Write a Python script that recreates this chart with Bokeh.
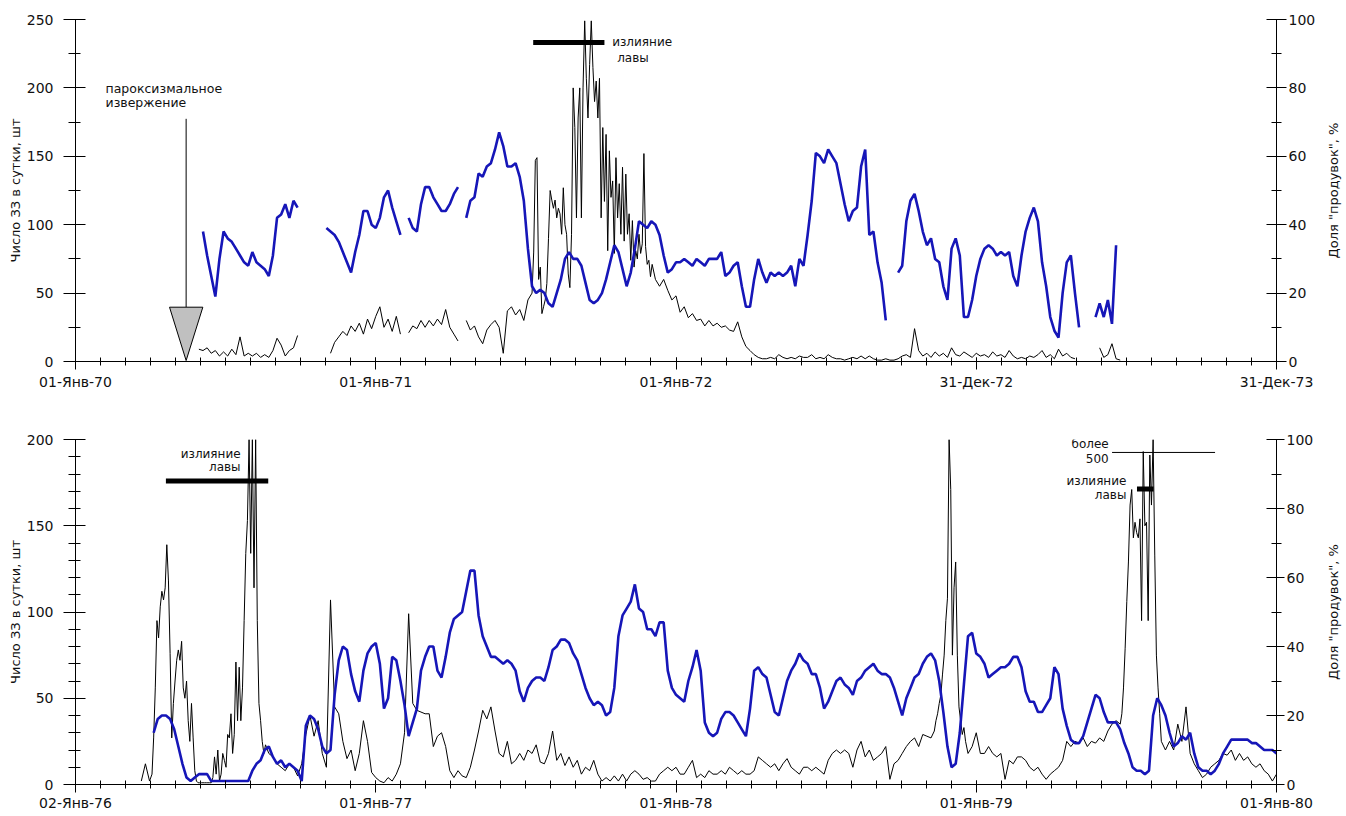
import math
import numpy as np
from bokeh.plotting import figure
from bokeh.models import Range1d, LinearAxis, FixedTicker, CustomJSTickFormatter, Label
from bokeh.layouts import column, row
from bokeh.embed import file_html
from bokeh.resources import INLINE

FONT = "DejaVu Sans"

# Each series is stored as pieces: (first day, step in days).
# None marks a gap in the record.

# ---------------- data: top panel (days from 01-Jan-1970) ----------------
top_tick_labels = ["01-Янв-70", "01-Янв-71", "01-Янв-72", "31-Дек-72", "31-Дек-73"]

top_count_a = [9, 8, 10, 6, 8, 4, 7, 4, 9, 5,
               18, 4, 6, 4, 6, 3, 5, 3, 8, 17,
               12, 4, 8, 10, 19, None, None, None, None, None,
               None, None, 6, 14, 18, 22, 19, 26, 22, 28,
               20, 31, 24, 33, 40, 25, 31, 22, 33, 20,
               None, 21, 26, 24, 30, 25, 30, 26, 31, 27,
               38, 25, 20, 15, None, 30, 23, 26, 18, 13,
               23, 27, 30, 25, 6, 37, 40, 34, 38, 30,
               45]
top_count_b = [50, 80, 147, 149, 60, 69, 35, 40, 45, 57,
               90, 125, 118, 112, 118, 105, 112, 108, 93, 127,
               100, 93, 64, 54, 93, 200, 171, 105, 178, 200,
               105, 200, 249, 207, 178, 217, 249, 215, 190, 205,
               178, 207, 105, 171, 117, 166, 81, 154, 120, 132,
               79, 149, 105, 130, 93, 142, 88, 137, 93, 108,
               74, 103, 69, 81, 75, 93, 79, 86, 152, 84,
               71, 74, 62, 71]
top_count_c = [60, 55, 60, 52, 45, 48, 36, 40, 32,
               35, 30, 31, 26, 30, 26, 28, 25, 26, 23,
               22, 29, 18, 11, 8, 5, 3, 2, 2, 3,
               2, 5, 3, 2, 3, 2, 4, 3, 3, 5,
               2, 3, 2, 5, 3, 2, 2, 1, 2, 3,
               2, 4, 2, 4, 2, 1, 1, 2, 1, 1,
               2, 4, 5, 3, 24, 8, 4, 6, 3, 7,
               4, 6, 3, 10, 5, 4, 7, 5, 3, 6,
               4, 5, 3, 7, 4, 5, 3, 8, 4, 2,
               3, 2, 4, 3, 5, 8, 3, 5, 2, 9,
               4, 6, 3, 2, None, None, None, None, None, 10,
               3, 5, 13, 2, 1]
top_count_pieces = [(150, 5, top_count_a), (555, 2, top_count_b), (705, 5, top_count_c)]

top_share = [38, 31, 25, 19, 30, 38, 36, 35, 33, 31,
             29, 28, 32, 29, 28, 27, 25, 31, 42, 43,
             46, 42, 47, 45, None, None, None, None, None, None,
             39, 38, 37, 35, 32, 29, 26, 32, 37, 44,
             44, 40, 39, 42, 48, 50, 45, 41, 37, None,
             42, 39, 38, 46, 51, 51, 48, 46, 44, 44,
             46, 49, 51, None, 42, 47, 48, 55, 54, 57,
             58, 62, 67, 63, 57, 57, 58, 54, 47, 33,
             22, 20, 21, 20, 17, 16, 20, 24, 30, 32,
             30, 30, 28, 23, 18, 17, 18, 20, 24, 29,
             34, 32, 27, 22, 26, 33, 41, 40, 39, 41,
             40, 37, 31, 26, 27, 29, 29, 30, 29, 28,
             30, 29, 28, 30, 30, 30, 32, 25, 26, 28,
             29, 22, 16, 16, 24, 30, 26, 23, 26, 25,
             26, 25, 26, 28, 22, 30, 28, 37, 47, 61,
             60, 58, 62, 60, 58, 52, 46, 41, 44, 45,
             57, 62, 37, 38, 29, 23, 12, None, None, 26,
             28, 41, 47, 49, 44, 38, 34, 36, 30, 29,
             22, 18, 33, 36, 31, 13, 13, 18, 25, 30,
             33, 34, 33, 31, 32, 31, 32, 25, 22, 31,
             38, 42, 45, 41, 29, 22, 13, 9, 7, 20,
             29, 31, 20, 10, None, None, None, 13, 17, 13,
             18, 11, 34]
top_share_pieces = [(155, 5, top_share)]

# ---------------- data: bottom panel (days from 02-Jan-1976) ----------------
bot_tick_labels = ["02-Янв-76", "01-Янв-77", "01-Янв-78", "01-Янв-79", "01-Янв-80"]

bot_count_a = [2, 12, 2]
bot_count_b = [6, 27, 56, 95, 85, 103, 112, 107, 114, 139,
               118, 76, 27, 47, 60, 72, 78, 72, 83, 56,
               50, 60, 37, 25, 47, 27, 8, 2, 1, 1,
               1, 1, 1, 1, 1, 1, 1, 4, 16, 6,
               20, 2, 6, 18, 14, 10, 29, 27, 41, 18,
               29, 71, 37, 68, 37, 56, 95, 134, 153, 200,
               134, 200, 114, 200, 95, 47, 37, 25, 18, 23]
bot_count_c = [18, 16, 12, 10, 8, 12, 10, 5, 12,
               29, 40, 28, 37, 18, 10, 107, 45, 41, 25,
               15, 20, 8, 18, 37, 25, 7, 4, 2, 1,
               4, 2, 6, 12, 30, 99, 47, 43, 42, 41,
               41, 22, 28, 30, 22, 8, 4, 8, 5, 4,
               10, 20, 31, 43, 38, 45, 31, 18, 16, 25,
               12, 14, 18, 14, 20, 18, 23, 13, 12, 18,
               31, 14, 18, 11, 16, 10, 14, 6, 10, 8,
               14, 6, 2, 4, 2, 5, 2, 6, 2, 6,
               8, 6, 3, 4, 2, 2, 6, 8, 10, 8,
               10, 6, 6, 10, 14, 4, 6, 4, 8, 6,
               6, 8, 6, 10, 8, 6, 8, 6, 6, 8,
               16, 14, 12, 10, 12, 8, 12, 15, 10, 8,
               6, 10, 10, 8, 10, 8, 6, 14, 18, 20,
               18, 20, 18, 10, 20, 25, 16, 20, 14, 16,
               18, 22, 3, 12, 14, 18, 22, 25, 27, 22,
               29, 28, 27]
bot_count_d = [31, 37, 41, 47, 52, 64, 75, 95, 108, 200,
               171, 75, 114, 129, 75, 45, 37, 29, 33, 25]
bot_count_e = [18, 22, 30, 18, 18, 22, 18, 16, 18,
               3, 14, 12, 16, 16, 14, 10, 8, 10, 6,
               3, 6, 8, 10, 14, 25, 22, 25, 24, 27,
               22, 25, 24, 27, 25, 31, 35, 37, 35]
bot_count_f = [41, 56, 79, 106, 129, 162, 171, 143, 152, 146,
               143, 154, 95, 193, 150, 152, 95, 191, 162, 200,
               133, 75, 56, 41]
bot_count_g = [25, 20, 25, 20, 35, 25, 45, 18, 12, 8,
               4, 6, 10, 12, 14, 18, 17, 20, 14, 18,
               14, 16, 12, 10, 12, 8, 6, 2, 6]
bot_count_pieces = [(80, 5, bot_count_a), (93, 2, bot_count_b), (235, 5, bot_count_c),
                    (1044, 2, bot_count_d), (1085, 5, bot_count_e), (1272, 2, bot_count_f),
                    (1320, 5, bot_count_g)]

bot_share = [15, 19, 20, 20, 19, 16, 11, 6, 2, 1,
             2, 3, 3, 3, 1, 1, 1, 1, 1, 1,
             1, 1, 1, 1, 4, 6, 7, 10, 11, 8,
             6, 7, 5, 6, 5, 4, 1, 17, 20, 19,
             16, 11, 9, 10, 26, 36, 40, 39, 32, 27,
             24, 33, 38, 40, 41, 35, 22, 25, 37, 36,
             30, 23, 14, 18, 22, 33, 37, 40, 40, 33,
             31, 37, 44, 48, 49, 50, 56, 62, 62, 49,
             43, 40, 37, 37, 36, 35, 36, 35, 33, 27,
             24, 28, 30, 31, 31, 30, 34, 39, 40, 42,
             42, 41, 38, 36, 32, 28, 25, 23, 24, 23,
             20, 21, 28, 43, 49, 51, 53, 58, 51, 50,
             45, 45, 43, 47, 47, 33, 28, 26, 25, 24,
             30, 34, 39, 33, 18, 15, 14, 15, 19, 21,
             21, 20, 18, 16, 14, 22, 33, 34, 32, 31,
             26, 21, 20, 25, 30, 33, 35, 38, 36, 35,
             32, 32, 28, 22, 24, 27, 30, 31, 29, 28,
             26, 30, 31, 33, 34, 35, 33, 32, 32, 31,
             28, 24, 20, 25, 28, 31, 32, 35, 37, 38,
             36, 30, 21, 11, 5, 6, 15, 29, 43, 44,
             38, 37, 35, 31, 32, 33, 34, 34, 35, 37,
             37, 34, 27, 24, 24, 21, 21, 23, 25, 34,
             32, 22, 17, 13, 12, 12, 14, 18, 22, 26,
             25, 21, 18, 18, 18, 16, 12, 9, 5, 4,
             4, 3, 4, 20, 25, 23, 20, 15, 11, 12,
             14, 13, 15, 9, 5, 4, 4, 3, 4, 6,
             9, 11, 13, 13, 13, 13, 13, 12, 12, 11,
             10, 10, 10, 9]
bot_share_pieces = [(95, 5, bot_share)]

year_tick_days = [0, 365, 730, 1095, 1460]
month_tick_days = [i * 365 / 12 for i in range(49)]
top_count_major = [0, 50, 100, 150, 200, 250]
top_count_minor = [25, 75, 125, 175, 225]
bot_count_major = [0, 50, 100, 150, 200]
bot_count_minor = list(range(10, 200, 10))
share_major = [0, 20, 40, 60, 80, 100]
share_minor = [10, 30, 50, 70, 90]
right_title = 'Доля "продувок", %'

BLUE = "#1616b8"
TEXT = "#111111"
MAIN_W = 1318
SIDE_W = 1346 - MAIN_W


def to_xy(pieces):
    xs, ys = [], []
    for start, step, vals in pieces:
        for i, v in enumerate(vals):
            xs.append(start + step * i)
            ys.append(np.nan if v is None else float(v))
    return np.array(xs, dtype=float), np.array(ys)


def style_axis(ax):
    ax.axis_line_color = "black"
    ax.major_tick_line_color = "black"
    ax.minor_tick_line_color = "black"
    ax.major_label_text_font = FONT
    ax.major_label_text_font_size = "14px"
    ax.major_label_text_color = TEXT
    ax.axis_label_text_font = FONT
    ax.axis_label_text_font_size = "13px"
    ax.axis_label_text_font_style = "normal"
    ax.axis_label_text_color = TEXT


def make_panel(height, b_top, b_bottom, b_right, cmax, cmaj, cmin, labels, x_standoff, r_tick_out):
    p = figure(width=MAIN_W, height=height, x_range=Range1d(0, 1460), y_range=Range1d(0, cmax),
               output_backend="svg", toolbar_location=None,
               min_border_left=75, min_border_right=b_right,
               min_border_top=b_top, min_border_bottom=b_bottom)
    p.outline_line_color = None
    p.grid.visible = False
    p.extra_y_ranges = {"share": Range1d(0, 100)}

    xa = p.xaxis[0]
    style_axis(xa)
    xa.ticker = FixedTicker(ticks=year_tick_days, minor_ticks=month_tick_days)
    xa.formatter = CustomJSTickFormatter(args=dict(tick_days=year_tick_days, tick_labels=labels),
                                         code="const i = tick_days.indexOf(tick); return i >= 0 ? tick_labels[i] : '';")
    xa.major_tick_in = 4
    xa.major_tick_out = 8
    xa.minor_tick_in = 4
    xa.minor_tick_out = 4
    xa.major_label_standoff = x_standoff

    ya = p.yaxis[0]
    style_axis(ya)
    ya.axis_label = "Число ЗЗ в сутки, шт"
    ya.ticker = FixedTicker(ticks=cmaj, minor_ticks=cmin)
    ya.major_tick_in = 10
    ya.major_tick_out = 12
    ya.minor_tick_in = 5
    ya.minor_tick_out = 7
    ya.major_label_standoff = 10
    ya.axis_label_standoff = 1

    ra = LinearAxis(y_range_name="share")
    style_axis(ra)
    ra.ticker = FixedTicker(ticks=share_major, minor_ticks=share_minor)
    ra.major_tick_in = 10
    ra.major_tick_out = r_tick_out
    ra.minor_tick_in = 5
    ra.minor_tick_out = 5
    ra.major_label_standoff = 2
    p.add_layout(ra, "right")
    return p


def side_title(height, y_center_frac):
    # narrow strip carrying the right-hand axis title, reading bottom-to-top
    q = figure(width=SIDE_W, height=height, x_range=Range1d(0, 1), y_range=Range1d(0, 1),
               x_axis_type=None, y_axis_type=None, output_backend="svg", toolbar_location=None,
               min_border=0)
    q.outline_line_color = None
    q.grid.visible = False
    q.add_layout(Label(x=0.55, y=y_center_frac, angle=math.pi / 2, text=right_title,
                       text_align="center", text_baseline="middle",
                       text_font=FONT, text_font_size="13px", text_color=TEXT))
    return q


def add_label(p, x, y, text, align, size="12px"):
    p.add_layout(Label(x=x, y=y, text=text, text_align=align, text_baseline="middle",
                       text_font=FONT, text_font_size=size, text_color=TEXT))


# ---------------- top panel ----------------
p1 = make_panel(400, 19, 39, MAIN_W - 1276, 250, top_count_major, top_count_minor, top_tick_labels, 4, 10)
x, y = to_xy(top_count_pieces)
p1.line(x, y, line_color="black", line_width=1)
x, y = to_xy(top_share_pieces)
p1.line(x, y, line_color=BLUE, line_width=2.6, y_range_name="share")

# arrow to the paroxysmal eruption
p1.segment(x0=[134.5], y0=[177.4], x1=[134.5], y1=[39.7], line_color="black", line_width=1)
p1.patch(x=[114.3, 154.8, 134.5], y=[39.7, 39.7, 0.7], fill_color="#c0c0c0", line_color="black", line_width=1)
add_label(p1, 36.5, 199.6, "пароксизмальное", "left", "12.5px")
add_label(p1, 36.5, 189.0, "извержение", "left", "12.5px")
# lava outflow bar
p1.segment(x0=[556.4], y0=[233.2], x1=[643.0], y1=[233.2], line_color="black", line_width=5)
add_label(p1, 652.4, 233.2, "излияние", "left")
add_label(p1, 658.5, 222.0, "лавы", "left")

# ---------------- bottom panel ----------------
p2 = make_panel(416, 39, 32, MAIN_W - 1280, 200, bot_count_major, bot_count_minor, bot_tick_labels, 2, 8)
x, y = to_xy(bot_count_pieces)
p2.line(x, y, line_color="black", line_width=1)
x, y = to_xy(bot_share_pieces)
p2.line(x, y, line_color=BLUE, line_width=2.6, y_range_name="share")

p2.segment(x0=[109.9], y0=[175.9], x1=[234.3], y1=[175.9], line_color="black", line_width=5)
add_label(p2, 200.7, 191.5, "излияние", "right")
add_label(p2, 200.7, 183.8, "лавы", "right")

p2.segment(x0=[1260.1], y0=[192.5], x1=[1385.3], y1=[192.5], line_color="black", line_width=1)
add_label(p2, 1256.0, 197.3, "более", "right")
add_label(p2, 1256.0, 189.2, "500", "right")
p2.segment(x0=[1290.4], y0=[171.3], x1=[1310.6], y1=[171.3], line_color="black", line_width=5)
add_label(p2, 1277.5, 176.0, "излияние", "right")
add_label(p2, 1277.5, 168.0, "лавы", "right")

q1 = side_title(400, (400 - 190) / 400)
q2 = side_title(416, (416 - 211.5) / 416)

layout = row(column(p1, p2), column(q1, q2))
open("out.html", "w").write(file_html(layout, INLINE))
